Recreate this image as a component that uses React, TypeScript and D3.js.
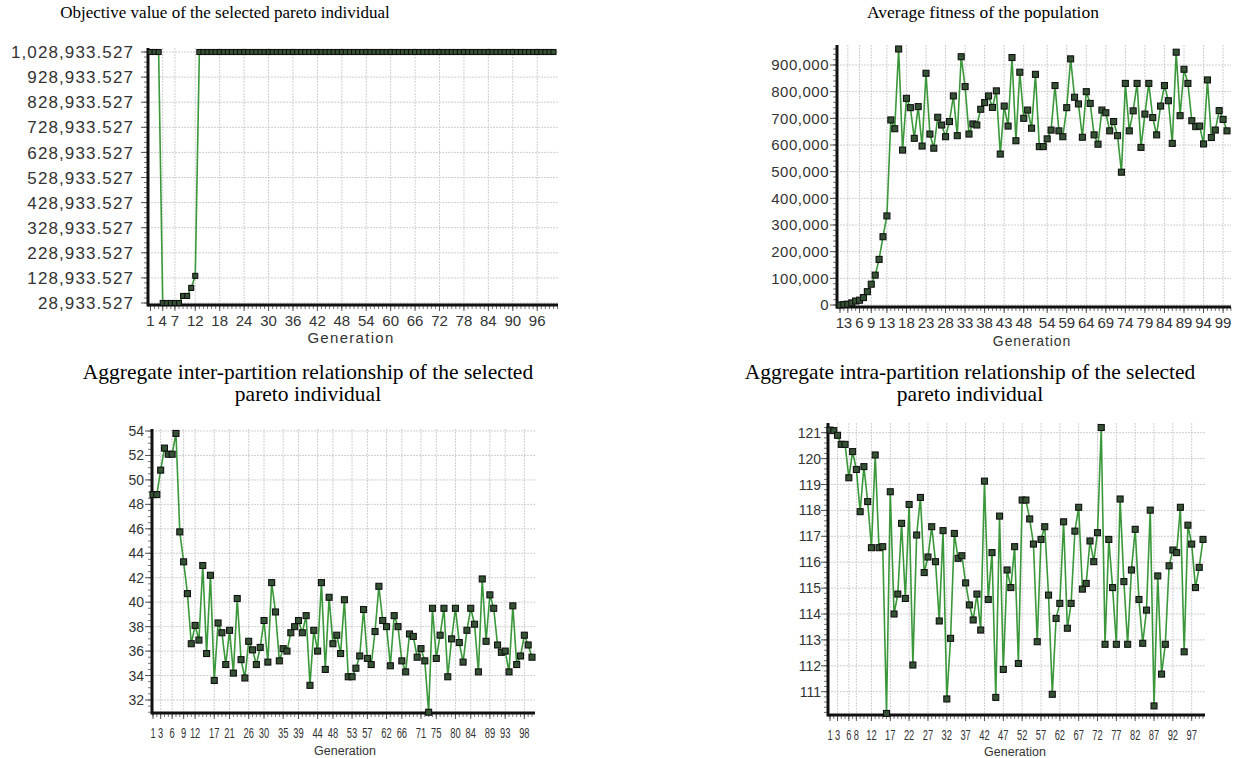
import React, { useRef, useEffect } from 'react'
import * as d3 from 'd3'

// generation index shared by all four charts
const generations = d3.range(1, 101)

const objectiveValues = [
  1028933.527, 1028933.527, 1028933.527, 28933.527, 28933.527, 28933.527, 28933.527, 28933.527, 57000, 57000,
  89000, 137000, 1028933.527, 1028933.527, 1028933.527, 1028933.527, 1028933.527, 1028933.527, 1028933.527, 1028933.527,
  1028933.527, 1028933.527, 1028933.527, 1028933.527, 1028933.527, 1028933.527, 1028933.527, 1028933.527, 1028933.527, 1028933.527,
  1028933.527, 1028933.527, 1028933.527, 1028933.527, 1028933.527, 1028933.527, 1028933.527, 1028933.527, 1028933.527, 1028933.527,
  1028933.527, 1028933.527, 1028933.527, 1028933.527, 1028933.527, 1028933.527, 1028933.527, 1028933.527, 1028933.527, 1028933.527,
  1028933.527, 1028933.527, 1028933.527, 1028933.527, 1028933.527, 1028933.527, 1028933.527, 1028933.527, 1028933.527, 1028933.527,
  1028933.527, 1028933.527, 1028933.527, 1028933.527, 1028933.527, 1028933.527, 1028933.527, 1028933.527, 1028933.527, 1028933.527,
  1028933.527, 1028933.527, 1028933.527, 1028933.527, 1028933.527, 1028933.527, 1028933.527, 1028933.527, 1028933.527, 1028933.527,
  1028933.527, 1028933.527, 1028933.527, 1028933.527, 1028933.527, 1028933.527, 1028933.527, 1028933.527, 1028933.527, 1028933.527,
  1028933.527, 1028933.527, 1028933.527, 1028933.527, 1028933.527, 1028933.527, 1028933.527, 1028933.527, 1028933.527, 1028933.527,
]

const fitnessValues = [
  0, 2000, 3000, 8000, 15000, 18000, 28000, 50000, 78000, 112000,
  171000, 256000, 334000, 694000, 661000, 960000, 581000, 775000, 740000, 625000,
  744000, 596000, 869000, 641000, 588000, 704000, 675000, 631000, 688000, 784000,
  635000, 931000, 819000, 641000, 679000, 675000, 734000, 759000, 784000, 741000,
  803000, 566000, 746000, 671000, 928000, 616000, 873000, 700000, 731000, 663000,
  865000, 594000, 594000, 623000, 656000, 823000, 653000, 631000, 740000, 923000,
  779000, 754000, 629000, 800000, 756000, 638000, 603000, 731000, 721000, 653000,
  688000, 635000, 498000, 831000, 653000, 728000, 831000, 591000, 716000, 831000,
  703000, 638000, 746000, 823000, 766000, 606000, 948000, 710000, 884000, 831000,
  691000, 669000, 671000, 604000, 844000, 628000, 656000, 729000, 696000, 653000,
]

const interValues = [
  48.8, 48.8, 50.8, 52.6, 52.1, 52.1, 53.8, 45.75, 43.3, 40.7,
  36.6, 38.1, 36.9, 43.0, 35.8, 42.2, 33.6, 38.3, 37.5, 34.9,
  37.7, 34.2, 40.3, 35.3, 33.8, 36.8, 36.1, 34.9, 36.3, 38.5,
  35.1, 41.6, 39.2, 35.2, 36.2, 36.0, 37.5, 38.0, 38.5, 37.5,
  38.9, 33.2, 37.7, 36.0, 41.6, 34.5, 40.4, 36.6, 37.3, 35.8,
  40.2, 33.9, 33.9, 34.6, 35.6, 39.4, 35.4, 34.9, 37.6, 41.3,
  38.5, 38.0, 34.8, 38.9, 38.0, 35.2, 34.3, 37.4, 37.2, 35.5,
  36.2, 35.2, 31.0, 39.5, 35.4, 37.3, 39.5, 33.9, 37.0, 39.5,
  36.7, 35.1, 37.7, 39.5, 38.2, 34.3, 41.9, 36.8, 40.6, 39.5,
  36.5, 35.9, 36.0, 34.3, 39.7, 34.9, 35.6, 37.3, 36.5, 35.5,
]

const intraValues = [
  121.1, 121.08, 120.9, 120.55, 120.55, 119.26, 120.27, 119.58, 117.95, 119.69,
  118.34, 116.56, 120.14, 116.56, 116.6, 110.16, 118.72, 114.0, 114.77, 117.5,
  114.6, 118.23, 112.03, 117.05, 118.5, 115.6, 116.2, 117.37, 116.02, 113.73,
  117.22, 110.72, 113.06, 117.11, 116.15, 116.25, 115.2, 114.35, 113.77, 114.77,
  113.38, 119.13, 114.56, 116.37, 110.78, 117.78, 111.86, 115.7, 115.02, 116.6,
  112.09, 118.4, 118.4, 117.67, 116.7, 112.93, 116.88, 117.37, 114.73, 110.9,
  113.83, 114.41, 117.56, 113.45, 114.41, 117.2, 118.12, 114.96, 115.18, 116.82,
  116.02, 117.14, 121.2, 112.83, 116.88, 115.02, 112.83, 118.44, 115.25, 112.83,
  115.7, 117.27, 114.56, 112.87, 114.15, 118.01, 110.45, 115.47, 111.68, 112.83,
  115.86, 116.47, 116.37, 118.12, 112.54, 117.43, 116.7, 115.02, 115.8, 116.88,
]

// x tick labels as printed under each chart
const objectiveTicks = [1, 4, 7, 12, 18, 24, 30, 36, 42, 48, 54, 60, 66, 72, 78, 84, 90, 96]
const fitnessTicks = [1, 3, 6, 9, 13, 18, 23, 28, 33, 38, 43, 48, 54, 59, 64, 69, 74, 79, 84, 89, 94, 99]
const interTicks = [1, 3, 6, 9, 12, 17, 21, 26, 30, 35, 39, 44, 48, 53, 57, 62, 66, 71, 75, 80, 84, 89, 93, 98]
const intraTicks = [1, 3, 6, 8, 12, 17, 22, 27, 32, 37, 42, 47, 52, 57, 62, 67, 72, 77, 82, 87, 92, 97]

// y tick values
const objectiveYTicks = d3.range(0, 11).map(i => 28933.527 + i * 100000)
const fitnessYTicks = d3.range(0, 1000000, 100000)
const interYTicks = d3.range(32, 56, 2)
const intraYTicks = d3.range(111, 122)

const titles = [
  ['Objective value of the selected pareto individual'],
  ['Average fitness of the population'],
  ['Aggregate inter-partition relationship of the selected', 'pareto individual'],
  ['Aggregate intra-partition relationship of the selected', 'pareto individual'],
]

interface Panel {
  title: string[]
  titleX: number
  titleY: number
  titleSize: number
  titleLead: number
  values: number[]
  xTicks: number[]
  yTicks: number[]
  yFormat: (v: number) => string
  yMinor: number
  left: number
  right: number
  top: number
  bottom: number
  x0: number
  x1: number
  yDomain: [number, number]
  yRange: [number, number]
  yLabelX: number
  yFont: number
  yLetter: number
  xFont: number
  xDigit: number // squeezed digit width, 0 = natural
  xLabelY: number
  genX: number
  genY: number
  genFont: number
  genLetter: number
  marker: number
}

const panels: Panel[] = [
  {
    title: titles[0], titleX: 225, titleY: 18, titleSize: 17, titleLead: 0,
    values: objectiveValues, xTicks: objectiveTicks, yTicks: objectiveYTicks,
    yFormat: d3.format(',.3f'), yMinor: 5,
    left: 148, right: 558, top: 48, bottom: 305, x0: 150.5, x1: 553.5,
    yDomain: [28933.527, 1028933.527], yRange: [303, 52],
    yLabelX: 134, yFont: 17, yLetter: 1.1, xFont: 15, xDigit: 0, xLabelY: 326,
    genX: 351, genY: 343, genFont: 15, genLetter: 1.3, marker: 5,
  },
  {
    title: titles[1], titleX: 983, titleY: 18, titleSize: 17.5, titleLead: 0,
    values: fitnessValues, xTicks: fitnessTicks, yTicks: fitnessYTicks,
    yFormat: d3.format(','), yMinor: 5,
    left: 837, right: 1231, top: 45, bottom: 307, x0: 840, x1: 1227,
    yDomain: [0, 900000], yRange: [305, 65],
    yLabelX: 829, yFont: 15, yLetter: 0.5, xFont: 15, xDigit: 0, xLabelY: 328,
    genX: 1032, genY: 346, genFont: 14, genLetter: 0.9, marker: 6,
  },
  {
    title: titles[2], titleX: 308, titleY: 379, titleSize: 21.5, titleLead: 22,
    values: interValues, xTicks: interTicks, yTicks: interYTicks,
    yFormat: d3.format('d'), yMinor: 4,
    left: 152, right: 535, top: 429, bottom: 713, x0: 153, x1: 532,
    yDomain: [32, 54], yRange: [700, 431],
    yLabelX: 144, yFont: 14, yLetter: 0, xFont: 14, xDigit: 5.2, xLabelY: 738,
    genX: 345, genY: 755, genFont: 12.5, genLetter: 0, marker: 6,
  },
  {
    title: titles[3], titleX: 970, titleY: 379, titleSize: 21.5, titleLead: 22,
    values: intraValues, xTicks: intraTicks, yTicks: intraYTicks,
    yFormat: d3.format('d'), yMinor: 5,
    left: 828, right: 1205, top: 423, bottom: 715, x0: 830, x1: 1203,
    yDomain: [111, 121], yRange: [691.7, 432.7],
    yLabelX: 821, yFont: 14, yLetter: 0, xFont: 14, xDigit: 5.2, xLabelY: 740,
    genX: 1015, genY: 756, genFont: 12.5, genLetter: 0, marker: 6,
  },
]

const sans = '"Liberation Sans", Arial, sans-serif'
const serif = '"Liberation Serif", "Times New Roman", serif'

function drawPanel(svg: d3.Selection<SVGSVGElement, unknown, null, undefined>, p: Panel) {
  const g = svg.append('g')
  const x = d3.scaleLinear().domain([1, 100]).range([p.x0, p.x1])
  const y = d3.scaleLinear().domain(p.yDomain).range(p.yRange)

  // title (one or two lines)
  g.selectAll('text.title')
    .data(p.title)
    .join('text')
    .attr('class', 'title')
    .attr('x', p.titleX)
    .attr('y', (_, i) => p.titleY + i * p.titleLead)
    .attr('text-anchor', 'middle')
    .attr('font-family', serif)
    .attr('font-size', p.titleSize)
    .attr('fill', '#000')
    .text(d => d)

  // grid
  g.selectAll('line.hgrid')
    .data(p.yTicks)
    .join('line')
    .attr('x1', p.left).attr('x2', p.right)
    .attr('y1', d => y(d)).attr('y2', d => y(d))
    .attr('stroke', '#cfcfcf').attr('stroke-dasharray', '2,1')

  g.selectAll('line.vgrid')
    .data(p.xTicks.filter(d => d > 1))
    .join('line')
    .attr('x1', d => x(d)).attr('x2', d => x(d))
    .attr('y1', p.top).attr('y2', p.bottom)
    .attr('stroke', '#cfcfcf').attr('stroke-dasharray', '2,1')

  // minor y ticks
  const step = (p.yTicks[1] - p.yTicks[0]) / p.yMinor
  const lo = y.invert(p.bottom)
  const hi = y.invert(p.top)
  const start = p.yTicks[0] - Math.floor((p.yTicks[0] - lo) / step) * step
  const minorY = d3.range(start, hi, step)
  g.selectAll('line.ymin')
    .data(minorY)
    .join('line')
    .attr('x1', p.left - 4).attr('x2', p.left)
    .attr('y1', d => y(d)).attr('y2', d => y(d))
    .attr('stroke', '#777')
  g.selectAll('line.ymaj')
    .data(p.yTicks)
    .join('line')
    .attr('x1', p.left - 7).attr('x2', p.left)
    .attr('y1', d => y(d)).attr('y2', d => y(d))
    .attr('stroke', '#555')

  // minor x ticks every generation
  const maxGen = Math.floor(x.invert(p.right))
  g.selectAll('line.xmin')
    .data(d3.range(1, maxGen + 1))
    .join('line')
    .attr('x1', d => x(d)).attr('x2', d => x(d))
    .attr('y1', p.bottom).attr('y2', p.bottom + 4)
    .attr('stroke', '#777')
  g.selectAll('line.xmaj')
    .data(p.xTicks)
    .join('line')
    .attr('x1', d => x(d)).attr('x2', d => x(d))
    .attr('y1', p.bottom).attr('y2', p.bottom + 6)
    .attr('stroke', '#555')

  // axis lines
  g.append('line')
    .attr('x1', p.left).attr('x2', p.left)
    .attr('y1', p.top).attr('y2', p.bottom + 1.5)
    .attr('stroke', '#111').attr('stroke-width', 3)
  g.append('line')
    .attr('x1', p.left).attr('x2', p.right)
    .attr('y1', p.bottom).attr('y2', p.bottom)
    .attr('stroke', '#111').attr('stroke-width', 3)

  // tick labels
  g.selectAll('text.ylab')
    .data(p.yTicks)
    .join('text')
    .attr('x', p.yLabelX)
    .attr('y', d => y(d) + p.yFont * 0.36)
    .attr('text-anchor', 'end')
    .attr('font-family', sans)
    .attr('font-size', p.yFont)
    .attr('letter-spacing', p.yLetter)
    .attr('fill', '#333')
    .text(d => p.yFormat(d))

  const xl = g.selectAll('text.xlab')
    .data(p.xTicks)
    .join('text')
    .attr('x', d => x(d))
    .attr('y', p.xLabelY)
    .attr('text-anchor', 'middle')
    .attr('font-family', sans)
    .attr('font-size', p.xFont)
    .attr('fill', '#333')
    .text(d => d)
  if (p.xDigit > 0) {
    // the lower charts print their generation numbers in a narrow face
    xl.attr('textLength', d => String(d).length * p.xDigit)
      .attr('lengthAdjust', 'spacingAndGlyphs')
  }

  g.append('text')
    .attr('x', p.genX)
    .attr('y', p.genY)
    .attr('text-anchor', 'middle')
    .attr('font-family', sans)
    .attr('font-size', p.genFont)
    .attr('letter-spacing', p.genLetter)
    .attr('fill', '#333')
    .text('Generation')

  // series
  const line = d3.line<number>()
    .x((_, i) => x(generations[i]))
    .y(d => y(d))

  g.append('path')
    .datum(p.values)
    .attr('d', line)
    .attr('fill', 'none')
    .attr('stroke', '#3a983a')
    .attr('stroke-width', 1.6)

  g.selectAll('rect.pt')
    .data(p.values)
    .join('rect')
    .attr('x', (_, i) => x(generations[i]) - p.marker / 2)
    .attr('y', d => y(d) - p.marker / 2)
    .attr('width', p.marker)
    .attr('height', p.marker)
    .attr('fill', '#355235')
    .attr('stroke', '#111')
    .attr('stroke-width', 1.1)
}

export default function App() {
  const svgRef = useRef<SVGSVGElement>(null)

  useEffect(() => {
    if (!svgRef.current) return
    const svg = d3.select(svgRef.current)
    svg.selectAll('*').remove()
    panels.forEach(p => drawPanel(svg, p))
  }, [])

  return (
    <svg
      ref={svgRef}
      width={1243}
      height={758}
      style={{ position: 'absolute', left: 0, top: 0, background: '#fff' }}
    />
  )
}
